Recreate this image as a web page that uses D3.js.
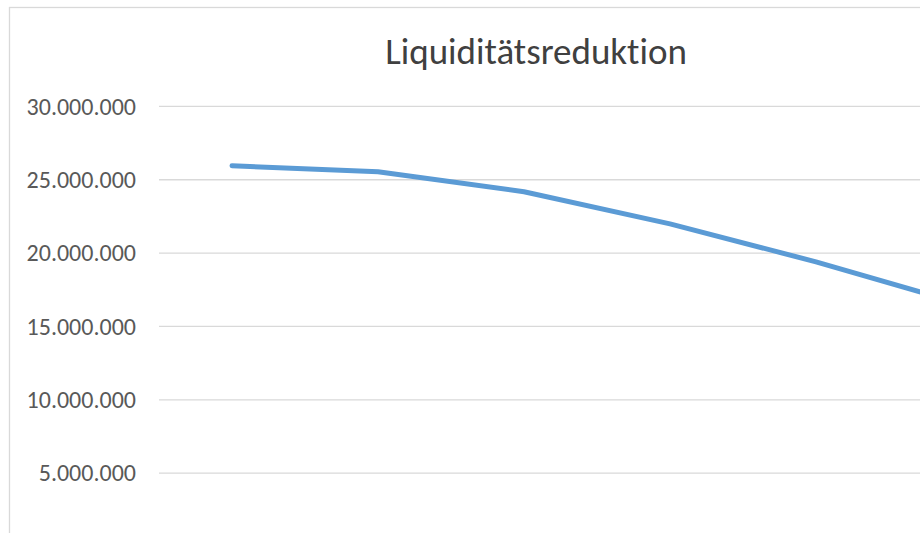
<!DOCTYPE html>
<html lang="de">
<head>
<meta charset="UTF-8">
<title>Liquiditätsreduktion</title>
<script src="https://cdn.jsdelivr.net/npm/d3@7"></script>
<style>
  body { margin: 0; background: #fff; overflow: hidden; }
  svg { display: block; font-family: Calibri, Carlito, Lato, sans-serif; font-variant-ligatures: none; }
</style>
</head>
<body>
<div id="chart"></div>
<script>
// data (the last point lies outside the visible area)
var periods = ["1", "2", "3", "4", "5", "6"];
var liquidity = [25920000, 25510000, 24150000, 21960000, 19370000, 16500000];
var yTicks = [5000000, 10000000, 15000000, 20000000, 25000000, 30000000];
var title = "Liquiditätsreduktion";

var W = 920, H = 533;

// plot area continues past the right edge of the window
var plot = {left: 159, right: 159 + 146 * periods.length, top: 33, bottom: 546};

var svg = d3.select("#chart").append("svg")
    .attr("width", W)
    .attr("height", H);

// chart border
svg.append("rect")
    .attr("x", 9.5).attr("y", 7.5)
    .attr("width", 1200).attr("height", 1200)
    .attr("fill", "#fff")
    .attr("stroke", "#d9d9d9")
    .attr("stroke-width", 1.3);

var x = d3.scalePoint()
    .domain(periods)
    .range([plot.left, plot.right])
    .padding(0.5);

var y = d3.scaleLinear()
    .domain([0, 35000000])
    .range([plot.bottom, plot.bottom - 73.35 * 7]);

var fmt = function (v) { return d3.format(",")(v).replace(/,/g, "."); };

// gridlines
var yAxis = svg.append("g")
    .attr("transform", "translate(" + plot.left + ",0)")
    .call(d3.axisLeft(y)
        .tickValues(yTicks)
        .tickSize(-(plot.right - plot.left))
        .tickPadding(23)
        .tickFormat(fmt));

yAxis.select(".domain").remove();
yAxis.selectAll(".tick line")
    .attr("stroke", "#d9d9d9")
    .attr("stroke-width", 1.3);
yAxis.selectAll(".tick text")
    .attr("fill", "#595959")
    .attr("dy", "0.34em")
    .style("font-size", "24px")
    .style("font-family", "Calibri, Carlito, Lato, sans-serif");

// line
var line = d3.line()
    .x(function (d, i) { return x(periods[i]); })
    .y(function (d) { return y(d); });

svg.append("path")
    .datum(liquidity)
    .attr("fill", "none")
    .attr("stroke", "#5b9bd5")
    .attr("stroke-width", 5)
    .attr("stroke-linecap", "round")
    .attr("stroke-linejoin", "round")
    .attr("d", line);

// title
svg.append("text")
    .attr("x", 536)
    .attr("y", 64)
    .attr("text-anchor", "middle")
    .attr("fill", "#404040")
    .style("font-size", "37px")
    .text(title);
</script>
</body>
</html>
